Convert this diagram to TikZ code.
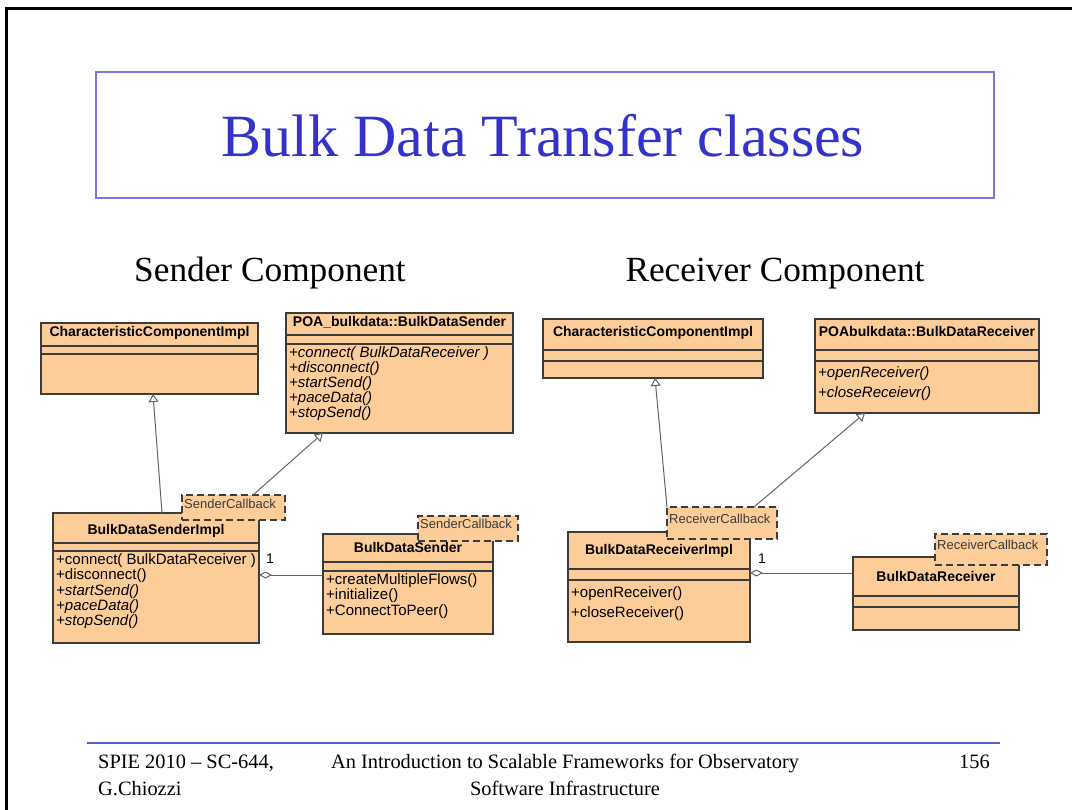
\documentclass[tikz,border=0pt]{standalone}
\usepackage{fontspec}
\setmainfont{Liberation Serif}
\newfontfamily\arialfont{Liberation Sans}
\usetikzlibrary{arrows.meta}
\definecolor{umlfill}{RGB}{252,204,153}
\definecolor{umlline}{RGB}{60,60,60}
\definecolor{conn}{RGB}{100,100,100}
\definecolor{titleblue}{RGB}{51,51,204}
\definecolor{boxblue}{RGB}{120,120,220}
\definecolor{footblue}{RGB}{90,90,210}
\tikzset{
 umlbox/.style={draw=umlline, fill=umlfill, line width=1.1pt, anchor=north west, inner sep=0pt, outer sep=0pt},
 umldiv/.style={draw=umlline, line width=1.1pt},
 cname/.style={font=\arialfont\bfseries\fontsize{14}{16}\selectfont, inner sep=0pt, anchor=mid},
 meth/.style={font=\arialfont\fontsize{15}{17}\selectfont, inner sep=0pt, anchor=mid west},
 imeth/.style={meth, font=\arialfont\itshape\fontsize{15}{17}\selectfont},
 tabbox/.style={draw=umlline, fill=umlfill, dash pattern=on 7pt off 4pt, line width=1.1pt, anchor=north west, inner sep=0pt, outer sep=0pt},
 tabtext/.style={font=\arialfont\fontsize{13}{15}\selectfont, text=umlline, inner sep=0pt, anchor=mid west},
 inherit/.style={draw=conn, line width=1pt, -{Triangle[open, length=8pt, width=10pt, fill=white]}},
 aggr/.style={draw=conn, line width=1pt, {Diamond[open, length=13pt, width=7pt, fill=white]}-},
 mult/.style={font=\arialfont\fontsize{14}{16}\selectfont, inner sep=0pt, anchor=mid},
 foot/.style={font=\fontsize{20.4}{24}\selectfont, inner sep=0pt},
 heading/.style={font=\fontsize{35.3}{42}\selectfont, inner sep=0pt, anchor=base},
}
\begin{document}
\begin{tikzpicture}[x=1pt,y=-1pt]
\useasboundingbox (0,0) rectangle (1072,810);
% slide frame
\draw[line width=3pt, black] (6,814) -- (6,9) -- (1076,9);
% title
\node[draw=boxblue, line width=2pt, minimum width=898, minimum height=126, anchor=north west, inner sep=0pt] (titlebox) at (95,71) {};
\node[font=\fontsize{60}{72}\selectfont, text=titleblue, anchor=base, inner sep=0pt] (title) at (543,157) {Bulk Data Transfer classes};
% headings
\node[heading] (sendhead) at (270,282) {Sender Component};
\node[heading] (recvhead) at (775,282) {Receiver Component};

% ---------------- Sender side ----------------
\node[umlbox, minimum width=217, minimum height=71] (scci) at (41,323) {};
\draw[umldiv] (41,346) -- (258,346);
\draw[umldiv] (41,354) -- (258,354);
\node[cname] (scci-n) at (149.5,334.5) {CharacteristicComponentImpl};

\node[umlbox, minimum width=227, minimum height=120] (spoa) at (286,313) {};
\draw[umldiv] (286,335) -- (513,335);
\draw[umldiv] (286,344) -- (513,344);
\node[cname] (spoa-n) at (399.5,324) {POA\_bulkdata::BulkDataSender};
\node[imeth] (spoa-m1) at (289,355) {+connect( BulkDataReceiver )};
\node[imeth] (spoa-m2) at (289,370) {+disconnect()};
\node[imeth] (spoa-m3) at (289,385) {+startSend()};
\node[imeth] (spoa-m4) at (289,400) {+paceData()};
\node[imeth] (spoa-m5) at (289,415) {+stopSend()};

\node[umlbox, minimum width=206, minimum height=130] (simpl) at (53,513) {};
\draw[umldiv] (53,543) -- (259,543);
\draw[umldiv] (53,551) -- (259,551);
\node[cname] (simpl-n) at (156,532) {BulkDataSenderImpl};
\node[meth] (simpl-m1) at (56,562) {+connect( BulkDataReceiver )};
\node[meth] (simpl-m2) at (56,577) {+disconnect()};
\node[imeth] (simpl-m3) at (56,593) {+startSend()};
\node[imeth] (simpl-m4) at (56,608) {+paceData()};
\node[imeth] (simpl-m5) at (56,623) {+stopSend()};
\node[tabbox, minimum width=103, minimum height=25] (stab1) at (182,495) {};
\node[tabtext] (stab1-t) at (184,506) {SenderCallback};

\node[umlbox, minimum width=170, minimum height=100] (ssend) at (323,534) {};
\draw[umldiv] (323,562) -- (493,562);
\draw[umldiv] (323,571) -- (493,571);
\node[cname] (ssend-n) at (408,550) {BulkDataSender};
\node[meth] (ssend-m1) at (326,582) {+createMultipleFlows()};
\node[meth] (ssend-m2) at (326,597) {+initialize()};
\node[meth] (ssend-m3) at (326,613) {+ConnectToPeer()};
\node[tabbox, minimum width=100, minimum height=25] (stab2) at (418,516) {};
\node[tabtext] (stab2-t) at (420,526) {SenderCallback};

\draw[inherit] ([xshift=109pt]simpl.north west) -- ([xshift=112pt]scci.south west);
\draw[inherit] ([xshift=71pt]stab1.north west) -- ([xshift=37pt]spoa.south west);
\draw[aggr] ([yshift=3pt]simpl.east) coordinate (sa) -- (sa -| ssend.west);
\node[mult] (smult) at (270,561) {1};

% ---------------- Receiver side ----------------
\node[umlbox, minimum width=220, minimum height=59] (rcci) at (543,319) {};
\draw[umldiv] (543,350) -- (763,350);
\draw[umldiv] (543,361) -- (763,361);
\node[cname] (rcci-n) at (653,334) {CharacteristicComponentImpl};

\node[umlbox, minimum width=224, minimum height=94] (rpoa) at (815,319) {};
\draw[umldiv] (815,350) -- (1039,350);
\draw[umldiv] (815,361) -- (1039,361);
\node[cname] (rpoa-n) at (927,334) {POAbulkdata::BulkDataReceiver};
\node[imeth] (rpoa-m1) at (818,375) {+openReceiver()};
\node[imeth] (rpoa-m2) at (818,395) {+closeReceievr()};

\node[umlbox, minimum width=182, minimum height=110] (rimpl) at (568,532) {};
\draw[umldiv] (568,569) -- (750,569);
\draw[umldiv] (568,580) -- (750,580);
\node[cname] (rimpl-n) at (659,552) {BulkDataReceiverImpl};
\node[meth] (rimpl-m1) at (571,595) {+openReceiver()};
\node[meth] (rimpl-m2) at (571,615) {+closeReceiver()};
\node[tabbox, minimum width=110, minimum height=32] (rtab1) at (667,507) {};
\node[tabtext] (rtab1-t) at (669,521) {ReceiverCallback};

\node[umlbox, minimum width=166, minimum height=73] (rrecv) at (853,557) {};
\draw[umldiv] (853,596) -- (1019,596);
\draw[umldiv] (853,607) -- (1019,607);
\node[cname] (rrecv-n) at (936,579) {BulkDataReceiver};
\node[tabbox, minimum width=112, minimum height=31] (rtab2) at (935,534) {};
\node[tabtext] (rtab2-t) at (937,547) {ReceiverCallback};

\draw[inherit] (rtab1.north west) -- ([xshift=112pt]rcci.south west);
\draw[inherit] ([xshift=87pt]rtab1.north west) -- ([xshift=50pt]rpoa.south west);
\draw[aggr] ([yshift=14pt]rimpl.east) coordinate (ra) -- (ra -| rrecv.west);
\node[mult] (rmult) at (762,561) {1};

% ---------------- footer ----------------
\draw[footblue, line width=2pt] (87,743) -- (1000,743);
\node[foot, anchor=base west] (f1) at (98,768) {SPIE 2010 \textendash\ SC-644,};
\node[foot, anchor=base west] (f2) at (98,795) {G.Chiozzi};
\node[foot, anchor=base] (f3) at (565,768) {An Introduction to Scalable Frameworks for Observatory};
\node[foot, anchor=base] (f4) at (565,795) {Software Infrastructure};
\node[foot, anchor=base east] (f5) at (990,768) {156};
\end{tikzpicture}
\end{document}
